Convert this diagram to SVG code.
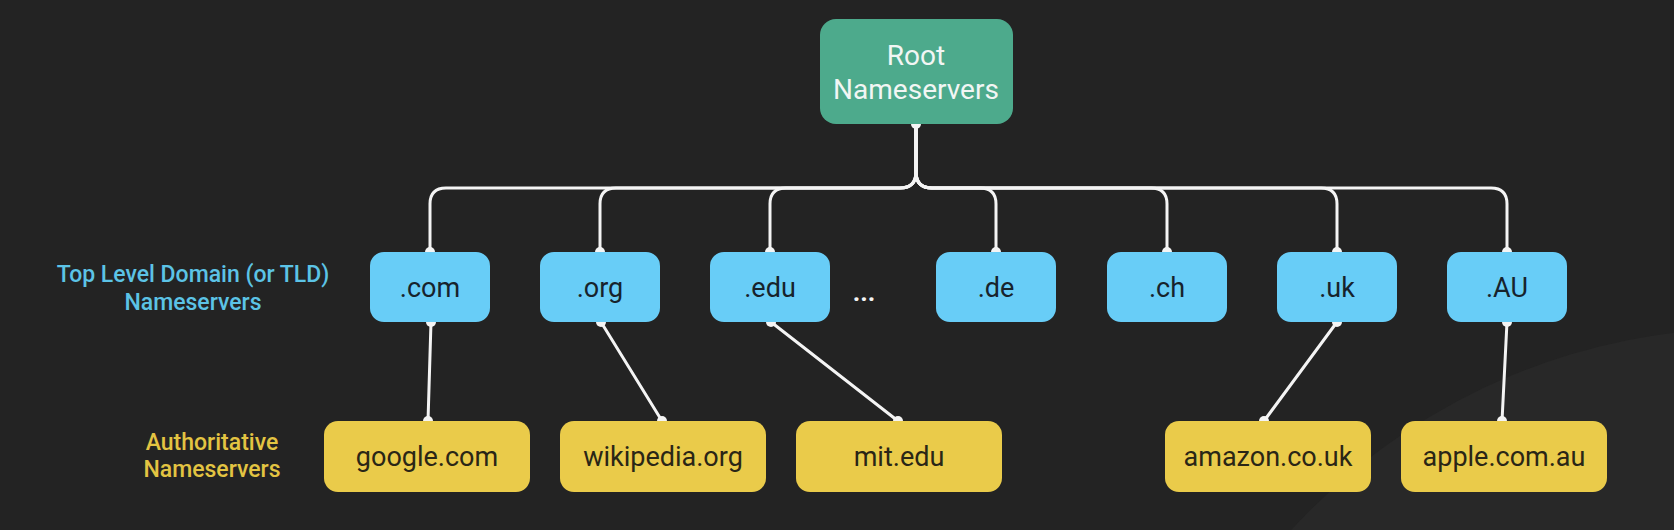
<svg xmlns="http://www.w3.org/2000/svg" width="1674" height="530" viewBox="0 0 1674 530">
<defs>
<style>
.bg{fill:#232323}
.root rect{fill:#4DAA8C}
.tld rect{fill:#68CDF7}
.auth rect{fill:#EACB4A}
text{font-family:Roboto,"Liberation Sans",sans-serif;text-anchor:middle}
.root text{fill:#F2F6F4;font-size:28px}
.tld text{fill:#17232C;font-size:27px}
.auth text{fill:#2A2616;font-size:27px}
.lbl-tld{fill:#5CC3E6;font-size:23px;font-weight:500}
.lbl-auth{fill:#E3C442;font-size:23px;font-weight:500}
.edge{fill:none;stroke:#F4F4F4;stroke-width:3;stroke-linecap:round}
.dot{fill:#F4F4F4}
</style>
</defs>
<rect class="bg" x="0" y="0" width="1674" height="530"/>
<circle cx="1750" cy="950" r="622" fill="#282828"/>

<text class="lbl-tld" x="193" y="282">Top Level Domain (or TLD)</text>
<text class="lbl-tld" x="193" y="310">Nameservers</text>
<text class="lbl-auth" x="212" y="450">Authoritative</text>
<text class="lbl-auth" x="212" y="477">Nameservers</text>

<g id="connectors">
<path class="edge" d="M916,124 V172 Q916,188 900,188 H446 Q430,188 430,204 V252"/>
<path class="edge" d="M916,124 V172 Q916,188 900,188 H616 Q600,188 600,204 V252"/>
<path class="edge" d="M916,124 V172 Q916,188 900,188 H786 Q770,188 770,204 V252"/>
<path class="edge" d="M916,124 V172 Q916,188 932,188 H980 Q996,188 996,204 V252"/>
<path class="edge" d="M916,124 V172 Q916,188 932,188 H1151 Q1167,188 1167,204 V252"/>
<path class="edge" d="M916,124 V172 Q916,188 932,188 H1321 Q1337,188 1337,204 V252"/>
<path class="edge" d="M916,124 V172 Q916,188 932,188 H1491 Q1507,188 1507,204 V252"/>
<line class="edge" x1="431" y1="322" x2="428" y2="421"/>
<line class="edge" x1="601" y1="322" x2="662" y2="421"/>
<line class="edge" x1="771" y1="322" x2="898" y2="421"/>
<line class="edge" x1="1337" y1="322" x2="1264" y2="421"/>
<line class="edge" x1="1507" y1="322" x2="1502" y2="421"/>
<circle class="dot" cx="916" cy="124" r="5"/>
<circle class="dot" cx="430" cy="252" r="5"/>
<circle class="dot" cx="600" cy="252" r="5"/>
<circle class="dot" cx="770" cy="252" r="5"/>
<circle class="dot" cx="996" cy="252" r="5"/>
<circle class="dot" cx="1167" cy="252" r="5"/>
<circle class="dot" cx="1337" cy="252" r="5"/>
<circle class="dot" cx="1507" cy="252" r="5"/>
<circle class="dot" cx="431" cy="322" r="5"/>
<circle class="dot" cx="601" cy="322" r="5"/>
<circle class="dot" cx="771" cy="322" r="5"/>
<circle class="dot" cx="1337" cy="322" r="5"/>
<circle class="dot" cx="1507" cy="322" r="5"/>
<circle class="dot" cx="428" cy="421" r="5"/>
<circle class="dot" cx="662" cy="421" r="5"/>
<circle class="dot" cx="898" cy="421" r="5"/>
<circle class="dot" cx="1264" cy="421" r="5"/>
<circle class="dot" cx="1502" cy="421" r="5"/>
</g>

<g id="root" class="root">
<rect x="820" y="19" width="193" height="105" rx="16"/>
<text x="916" y="65">Root</text>
<text x="916" y="99">Nameservers</text>
</g>

<g id="tld-com" class="tld"><rect x="370" y="252" width="120" height="70" rx="14"/><text x="430" y="297">.com</text></g>
<g id="tld-org" class="tld"><rect x="540" y="252" width="120" height="70" rx="14"/><text x="600" y="297">.org</text></g>
<g id="tld-edu" class="tld"><rect x="710" y="252" width="120" height="70" rx="14"/><text x="770" y="297">.edu</text></g>
<text x="864" y="301" style="fill:#F4F4F4;font-size:26px;font-weight:700">...</text>
<g id="tld-de" class="tld"><rect x="936" y="252" width="120" height="70" rx="14"/><text x="996" y="297">.de</text></g>
<g id="tld-ch" class="tld"><rect x="1107" y="252" width="120" height="70" rx="14"/><text x="1167" y="297">.ch</text></g>
<g id="tld-uk" class="tld"><rect x="1277" y="252" width="120" height="70" rx="14"/><text x="1337" y="297">.uk</text></g>
<g id="tld-au" class="tld"><rect x="1447" y="252" width="120" height="70" rx="14"/><text x="1507" y="297">.AU</text></g>

<g id="auth-google" class="auth"><rect x="324" y="421" width="206" height="71" rx="14"/><text x="427" y="466">google.com</text></g>
<g id="auth-wikipedia" class="auth"><rect x="560" y="421" width="206" height="71" rx="14"/><text x="663" y="466">wikipedia.org</text></g>
<g id="auth-mit" class="auth"><rect x="796" y="421" width="206" height="71" rx="14"/><text x="899" y="466">mit.edu</text></g>
<g id="auth-amazon" class="auth"><rect x="1165" y="421" width="206" height="71" rx="14"/><text x="1268" y="466">amazon.co.uk</text></g>
<g id="auth-apple" class="auth"><rect x="1401" y="421" width="206" height="71" rx="14"/><text x="1504" y="466">apple.com.au</text></g>
</svg>
